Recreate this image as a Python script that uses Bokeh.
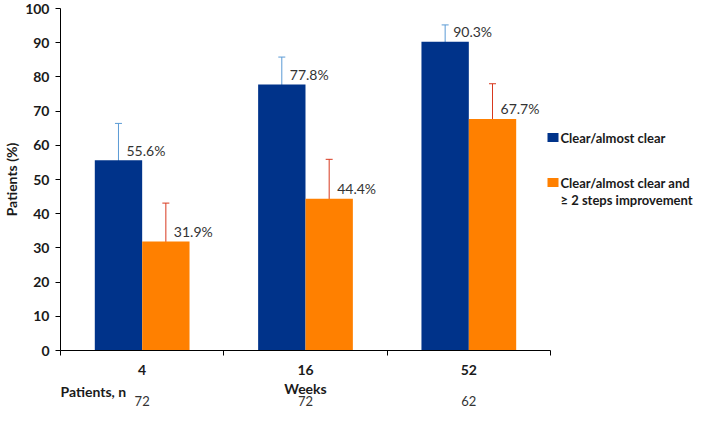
from bokeh.plotting import figure
from bokeh.layouts import column
from bokeh.models import Range1d, FixedTicker, Whisker, ColumnDataSource, TeeHead
from bokeh.core.properties import value
from bokeh.embed import file_html
from bokeh.resources import INLINE

# ---- data ----
weeks = ["4", "16", "52"]
clear = [55.6, 77.8, 90.3]
clear_lo = [44.3, 66.9, 80.2]
clear_hi = [66.4, 85.8, 95.2]
steps = [31.9, 44.4, 67.7]
steps_lo = [22.3, 33.4, 55.1]
steps_hi = [43.1, 55.9, 78.0]
patients_n = ["72", "72", "62"]
y_ticks = list(range(0, 101, 10))
legend_lines = ["Clear/almost clear", "Clear/almost clear and", "\u2265 2 steps improvement"]

# ---- layout / style constants ----
FL = 53            # left border of main figure (px)
FW = 634           # frame width (px)
FH = 342           # frame height (px)
PX_X = 163.33      # px per category
PX_Y = FH / 100.0  # px per percentage point
BW = 0.29
FONT = value("Lato")
BLUE = "#00338A"
ORANGE = "#FF8000"
ERR_BLUE = "#5B9BD5"
ERR_RED = "#D8391F"
TXT = "#1A1A1A"


def xd(px):   # px right of the frame's left edge -> data x
    return px / PX_X


def yd(py):   # px below the top of the frame -> data y
    return (FH - py) / PX_Y


centers = [i + 0.5 for i in range(len(weeks))]
x_blue = [c - BW / 2 for c in centers]
x_orange = [c + BW / 2 for c in centers]

xr = Range1d(0, FW / PX_X)
p = figure(frame_width=FW, frame_height=FH, output_backend="svg", toolbar_location=None,
           x_range=xr, y_range=Range1d(0, 100))
p.min_border_left = FL
p.min_border_right = 0
p.min_border_top = 8
p.min_border_bottom = 26
p.outline_line_color = None
p.xgrid.visible = False
p.ygrid.visible = False

src_b = ColumnDataSource(dict(x=x_blue, top=clear, lo=clear_lo, hi=clear_hi,
                              lab=[f"{v:.1f}%" for v in clear]))
src_o = ColumnDataSource(dict(x=x_orange, top=steps, lo=steps_lo, hi=steps_hi,
                              lab=[f"{v:.1f}%" for v in steps]))

p.vbar(x="x", top="top", width=BW, source=src_b, fill_color=BLUE, line_color=None)
p.vbar(x="x", top="top", width=BW, source=src_o, fill_color=ORANGE, line_color=None)

for src, col in ((src_b, ERR_BLUE), (src_o, ERR_RED)):
    w = Whisker(base="x", upper="hi", lower="lo", source=src, line_color=col, line_width=1,
                upper_head=TeeHead(size=7, line_color=col, line_width=1),
                lower_head=TeeHead(size=7, line_color=col, line_width=1))
    p.add_layout(w)
    p.text(x="x", y="top", text="lab", source=src, x_offset=8, y_offset=-10,
           text_align="left", text_baseline="middle", text_font=FONT,
           text_font_size="14px", text_color="#333333")

# ---- legend (drawn inside the frame, right of the bars) ----
leg_sq = ColumnDataSource(dict(x=[xd(492.5)] * 2, y=[yd(129), yd(174)], c=[BLUE, ORANGE]))
p.rect(x="x", y="y", width=11, height=9, width_units="screen", height_units="screen",
       fill_color="c", line_color=None, source=leg_sq)
leg_tx = ColumnDataSource(dict(x=[xd(500)] * 3, y=[yd(129), yd(174), yd(191)], t=legend_lines))
p.text(x="x", y="y", text="t", source=leg_tx, text_align="left", text_baseline="middle",
       text_font=FONT, text_font_style="bold", text_font_size="13px", text_color=TXT)

# ---- axes ----
p.yaxis.ticker = FixedTicker(ticks=y_ticks)
p.yaxis.axis_label = "Patients (%)"
p.yaxis.axis_label_text_font = "Lato"
p.yaxis.axis_label_text_font_style = "bold"
p.yaxis.axis_label_text_font_size = "14px"
p.yaxis.axis_label_text_color = TXT
p.yaxis.axis_label_standoff = 2
p.yaxis.major_label_text_font = "Lato"
p.yaxis.major_label_text_font_style = "bold"
p.yaxis.major_label_text_font_size = "14px"
p.yaxis.major_label_text_color = TXT
p.yaxis.major_tick_out = 5
p.yaxis.major_tick_in = 0
p.yaxis.minor_tick_out = 0
p.yaxis.minor_tick_in = 0
p.yaxis.major_label_standoff = 6
p.yaxis.axis_line_color = "black"
p.yaxis.major_tick_line_color = "black"

p.xaxis.ticker = FixedTicker(ticks=centers, minor_ticks=list(range(len(weeks) + 1)))
p.xaxis.major_label_overrides = {c: w for c, w in zip(centers, weeks)}
p.xaxis.bounds = (0, len(weeks))
p.xaxis.major_label_text_font = "Lato"
p.xaxis.major_label_text_font_style = "bold"
p.xaxis.major_label_text_font_size = "14px"
p.xaxis.major_label_text_color = TXT
p.xaxis.major_label_standoff = 9
p.xaxis.major_tick_out = 0
p.xaxis.major_tick_in = 0
p.xaxis.minor_tick_out = 5
p.xaxis.minor_tick_in = 0
p.xaxis.axis_line_color = "black"
p.xaxis.minor_tick_line_color = "black"

# ---- bottom strip: axis title and patients n row (frame aligned with main frame) ----
SH = 30
q = figure(frame_width=FW, frame_height=SH, output_backend="svg", toolbar_location=None,
           x_range=xr, y_range=Range1d(SH, 0))
q.min_border_left = FL
q.min_border_right = 0
q.min_border_top = 0
q.min_border_bottom = 0
q.axis.visible = False
q.grid.visible = False
q.outline_line_color = None

q.text(x=[centers[1]], y=[11], text=["Weeks"], text_align="center", text_baseline="middle",
       text_font=FONT, text_font_style="bold", text_font_size="14px", text_color=TXT)
q.text(x=[0], y=[14], text=["Patients, n"], text_align="left", text_baseline="middle",
       text_font=FONT, text_font_style="bold", text_font_size="14px", text_color=TXT)
q.text(x=centers, y=[23] * len(centers), text=patients_n, text_align="center",
       text_baseline="middle", text_font=FONT, text_font_size="13px", text_color="#333333")

layout = column(p, q, spacing=0)
open("out.html", "w").write(file_html(layout, INLINE))
